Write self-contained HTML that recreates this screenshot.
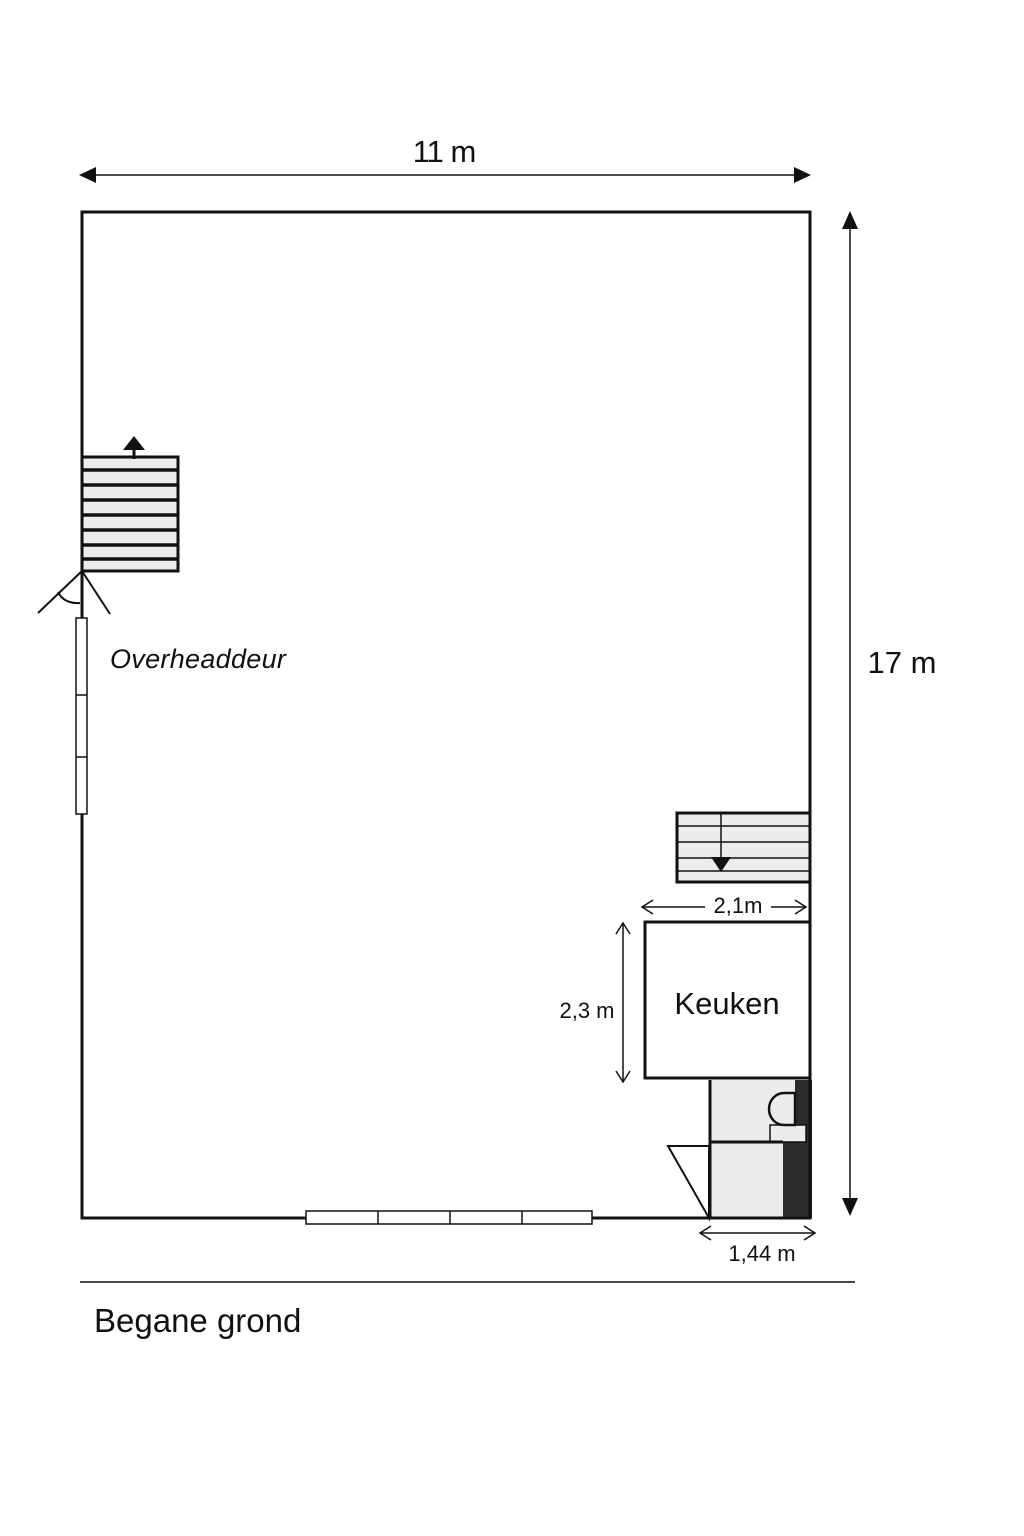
<!DOCTYPE html>
<html><head><meta charset="utf-8"><style>
html,body{margin:0;padding:0;background:#fff;}
svg{display:block;}
text{font-family:"Liberation Sans",sans-serif;fill:#111;}
</style></head><body>
<svg width="1024" height="1536" viewBox="0 0 1024 1536" xmlns="http://www.w3.org/2000/svg">
<rect width="1024" height="1536" fill="#fff"/>
<line x1="92" y1="175" x2="798" y2="175" stroke="#111" stroke-width="1.5"/>
<polygon points="79,175 96,167 96,183" fill="#111"/>
<polygon points="811,175 794,167 794,183" fill="#111"/>
<text x="444" y="162" font-size="31" text-anchor="middle" letter-spacing="-1">11 m</text>
<line x1="850" y1="225" x2="850" y2="1202" stroke="#111" stroke-width="1.5"/>
<polygon points="850,211 842,229 858,229" fill="#111"/>
<polygon points="850,1216 842,1198 858,1198" fill="#111"/>
<text x="902" y="673" font-size="31" text-anchor="middle">17 m</text>
<rect x="82" y="457" width="96" height="114" fill="#ececec" stroke="#111" stroke-width="3"/>
<g stroke="#111" stroke-width="3.5">
<line x1="82" y1="470" x2="178" y2="470"/><line x1="82" y1="485" x2="178" y2="485"/>
<line x1="82" y1="500" x2="178" y2="500"/><line x1="82" y1="515" x2="178" y2="515"/>
<line x1="82" y1="530" x2="178" y2="530"/><line x1="82" y1="545" x2="178" y2="545"/>
<line x1="82" y1="559" x2="178" y2="559"/>
</g>
<line x1="134" y1="446" x2="134" y2="459" stroke="#111" stroke-width="3"/>
<polygon points="134,436 123,450 145,450" fill="#111"/>
<g stroke="#111" stroke-width="2" fill="none">
<line x1="82" y1="571" x2="38" y2="613"/>
<line x1="82" y1="571" x2="110" y2="614"/>
<path d="M58,592 Q64,604 80,603"/>
<line x1="82" y1="571" x2="82" y2="618" stroke-width="3"/>
</g>
<rect x="76" y="618" width="11" height="196" fill="#fff" stroke="#111" stroke-width="1.5"/>
<line x1="76" y1="695" x2="87" y2="695" stroke="#111" stroke-width="1.5"/>
<line x1="76" y1="757" x2="87" y2="757" stroke="#111" stroke-width="1.5"/>
<text x="110" y="668" font-size="27" font-style="italic" letter-spacing="0.3">Overheaddeur</text>
<rect x="710" y="1080" width="100" height="138" fill="#ececec"/>
<rect x="795" y="1080" width="17" height="62" fill="#2a2a2a"/>
<rect x="783" y="1142" width="29" height="76" fill="#2a2a2a"/>
<rect x="770" y="1125" width="36" height="17" fill="#ececec" stroke="#111" stroke-width="1.5"/>
<path d="M795,1093 H784 A15,16 0 0 0 784,1125 H795 Z" fill="#ececec" stroke="#111" stroke-width="2.5"/>
<line x1="710" y1="1142" x2="783" y2="1142" stroke="#111" stroke-width="3"/>
<line x1="710" y1="1080" x2="710" y2="1218" stroke="#111" stroke-width="3"/>
<polygon points="668,1146 709,1146 709,1218" fill="#fff" stroke="#111" stroke-width="2"/>
<path d="M82,618 V212 H810 V1218 H82 V814" fill="none" stroke="#111" stroke-width="3"/>
<rect x="306" y="1211" width="286" height="13" fill="#fff" stroke="#111" stroke-width="1.5"/>
<line x1="378" y1="1211" x2="378" y2="1224" stroke="#111" stroke-width="1.5"/>
<line x1="450" y1="1211" x2="450" y2="1224" stroke="#111" stroke-width="1.5"/>
<line x1="522" y1="1211" x2="522" y2="1224" stroke="#111" stroke-width="1.5"/>
<rect x="677" y="813" width="133" height="69" fill="#ececec" stroke="#111" stroke-width="3"/>
<g stroke="#111" stroke-width="1.5">
<line x1="677" y1="826" x2="810" y2="826"/><line x1="677" y1="842" x2="810" y2="842"/>
<line x1="677" y1="858" x2="810" y2="858"/><line x1="677" y1="871" x2="810" y2="871"/>
<line x1="721" y1="813" x2="721" y2="860"/>
</g>
<polygon points="711,857 731,857 721,872" fill="#111"/>
<g stroke="#111" stroke-width="1.5" fill="none">
<line x1="642" y1="907" x2="705" y2="907"/><line x1="771" y1="907" x2="805" y2="907"/>
<polyline points="653,900 642,907 653,914"/><polyline points="795,900 806,907 795,914"/>
</g>
<text x="738" y="913" font-size="22" text-anchor="middle">2,1m</text>
<rect x="645" y="922" width="165" height="156" fill="#fff" stroke="#111" stroke-width="3"/>
<text x="727" y="1014" font-size="31" text-anchor="middle">Keuken</text>
<g stroke="#111" stroke-width="1.5" fill="none">
<line x1="623" y1="923" x2="623" y2="1082"/>
<polyline points="616,934 623,923 630,934"/><polyline points="616,1071 623,1082 630,1071"/>
</g>
<text x="587" y="1018" font-size="22" text-anchor="middle">2,3 m</text>
<g stroke="#111" stroke-width="1.5" fill="none">
<line x1="700" y1="1233" x2="815" y2="1233"/>
<polyline points="711,1226 700,1233 711,1240"/><polyline points="804,1226 815,1233 804,1240"/>
</g>
<text x="762" y="1261" font-size="22" text-anchor="middle">1,44 m</text>
<line x1="80" y1="1282" x2="855" y2="1282" stroke="#111" stroke-width="1.5"/>
<text x="94" y="1332" font-size="33">Begane grond</text>
</svg>
</body></html>
